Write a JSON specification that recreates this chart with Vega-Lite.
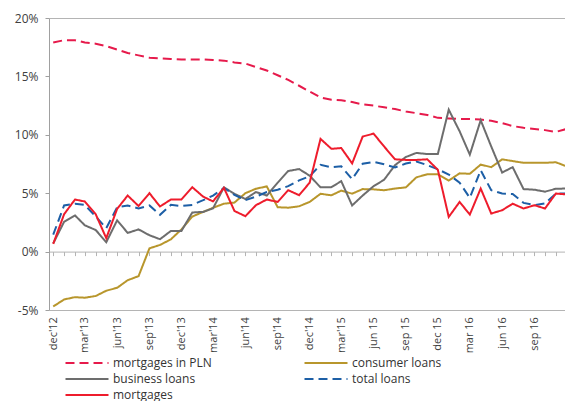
{
  "$schema": "https://vega.github.io/schema/vega-lite/v6.json",
  "autosize": {"type": "none"},
  "padding": {"left": 49, "top": 18, "right": 0, "bottom": 91},
  "width": 516,
  "height": 292,
  "config": {"view": {"stroke": null}, "font": "Open Sans"},
  "data": {"values": [
    {"date": "2012-12-01", "mortgages in PLN": 17.9, "consumer loans": -4.7, "business loans": 0.7, "total loans": 1.45, "mortgages": 0.66},
    {"date": "2013-01-01", "mortgages in PLN": 18.1, "consumer loans": -4.1, "business loans": 2.55, "total loans": 3.95, "mortgages": 3.2},
    {"date": "2013-02-01", "mortgages in PLN": 18.1, "consumer loans": -3.9, "business loans": 3.1, "total loans": 4.1, "mortgages": 4.46},
    {"date": "2013-03-01", "mortgages in PLN": 17.9, "consumer loans": -3.95, "business loans": 2.25, "total loans": 4.0, "mortgages": 4.29},
    {"date": "2013-04-01", "mortgages in PLN": 17.8, "consumer loans": -3.8, "business loans": 1.85, "total loans": 3.0, "mortgages": 3.2},
    {"date": "2013-05-01", "mortgages in PLN": 17.6, "consumer loans": -3.35, "business loans": 0.8, "total loans": 2.0, "mortgages": 1.15},
    {"date": "2013-06-01", "mortgages in PLN": 17.3, "consumer loans": -3.1, "business loans": 2.68, "total loans": 3.8, "mortgages": 3.66},
    {"date": "2013-07-01", "mortgages in PLN": 17.0, "consumer loans": -2.45, "business loans": 1.6, "total loans": 3.95, "mortgages": 4.8},
    {"date": "2013-08-01", "mortgages in PLN": 16.8, "consumer loans": -2.1, "business loans": 1.9, "total loans": 3.7, "mortgages": 3.9},
    {"date": "2013-09-01", "mortgages in PLN": 16.6, "consumer loans": 0.28, "business loans": 1.4, "total loans": 3.95, "mortgages": 5.0},
    {"date": "2013-10-01", "mortgages in PLN": 16.55, "consumer loans": 0.57, "business loans": 1.06, "total loans": 3.15, "mortgages": 3.86},
    {"date": "2013-11-01", "mortgages in PLN": 16.5, "consumer loans": 1.05, "business loans": 1.77, "total loans": 4.0, "mortgages": 4.46},
    {"date": "2013-12-01", "mortgages in PLN": 16.45, "consumer loans": 1.9, "business loans": 1.77, "total loans": 3.9, "mortgages": 4.46},
    {"date": "2014-01-01", "mortgages in PLN": 16.45, "consumer loans": 3.0, "business loans": 3.35, "total loans": 4.0, "mortgages": 5.51},
    {"date": "2014-02-01", "mortgages in PLN": 16.45, "consumer loans": 3.4, "business loans": 3.4, "total loans": 4.4, "mortgages": 4.7},
    {"date": "2014-03-01", "mortgages in PLN": 16.4, "consumer loans": 3.75, "business loans": 3.7, "total loans": 4.8, "mortgages": 4.3},
    {"date": "2014-04-01", "mortgages in PLN": 16.35, "consumer loans": 4.1, "business loans": 5.5, "total loans": 5.45, "mortgages": 5.46},
    {"date": "2014-05-01", "mortgages in PLN": 16.2, "consumer loans": 4.2, "business loans": 4.95, "total loans": 4.85, "mortgages": 3.48},
    {"date": "2014-06-01", "mortgages in PLN": 16.1, "consumer loans": 5.0, "business loans": 4.5, "total loans": 4.4, "mortgages": 3.03},
    {"date": "2014-07-01", "mortgages in PLN": 15.8, "consumer loans": 5.38, "business loans": 5.1, "total loans": 4.7, "mortgages": 3.97},
    {"date": "2014-08-01", "mortgages in PLN": 15.5, "consumer loans": 5.58, "business loans": 4.8, "total loans": 5.1, "mortgages": 4.46},
    {"date": "2014-09-01", "mortgages in PLN": 15.1, "consumer loans": 3.8, "business loans": 5.9, "total loans": 5.3, "mortgages": 4.25},
    {"date": "2014-10-01", "mortgages in PLN": 14.7, "consumer loans": 3.76, "business loans": 6.9, "total loans": 5.6, "mortgages": 5.26},
    {"date": "2014-11-01", "mortgages in PLN": 14.2, "consumer loans": 3.88, "business loans": 7.07, "total loans": 6.1, "mortgages": 4.83},
    {"date": "2014-12-01", "mortgages in PLN": 13.7, "consumer loans": 4.25, "business loans": 6.5, "total loans": 6.45, "mortgages": 5.9},
    {"date": "2015-01-01", "mortgages in PLN": 13.2, "consumer loans": 4.95, "business loans": 5.5, "total loans": 7.43, "mortgages": 9.65},
    {"date": "2015-02-01", "mortgages in PLN": 13.0, "consumer loans": 4.82, "business loans": 5.52, "total loans": 7.22, "mortgages": 8.8},
    {"date": "2015-03-01", "mortgages in PLN": 12.95, "consumer loans": 5.22, "business loans": 6.03, "total loans": 7.3, "mortgages": 8.87},
    {"date": "2015-04-01", "mortgages in PLN": 12.8, "consumer loans": 4.96, "business loans": 3.95, "total loans": 6.2, "mortgages": 7.55},
    {"date": "2015-05-01", "mortgages in PLN": 12.6, "consumer loans": 5.35, "business loans": 4.8, "total loans": 7.52, "mortgages": 9.85},
    {"date": "2015-06-01", "mortgages in PLN": 12.5, "consumer loans": 5.33, "business loans": 5.6, "total loans": 7.68, "mortgages": 10.1},
    {"date": "2015-07-01", "mortgages in PLN": 12.35, "consumer loans": 5.25, "business loans": 6.15, "total loans": 7.48, "mortgages": 9.0},
    {"date": "2015-08-01", "mortgages in PLN": 12.2, "consumer loans": 5.4, "business loans": 7.4, "total loans": 7.2, "mortgages": 7.9},
    {"date": "2015-09-01", "mortgages in PLN": 12.0, "consumer loans": 5.5, "business loans": 8.1, "total loans": 7.54, "mortgages": 7.85},
    {"date": "2015-10-01", "mortgages in PLN": 11.85, "consumer loans": 6.36, "business loans": 8.45, "total loans": 7.72, "mortgages": 7.85},
    {"date": "2015-11-01", "mortgages in PLN": 11.7, "consumer loans": 6.62, "business loans": 8.35, "total loans": 7.4, "mortgages": 7.9},
    {"date": "2015-12-01", "mortgages in PLN": 11.45, "consumer loans": 6.62, "business loans": 8.35, "total loans": 7.05, "mortgages": 7.0},
    {"date": "2016-01-01", "mortgages in PLN": 11.4, "consumer loans": 6.08, "business loans": 12.15, "total loans": 6.6, "mortgages": 2.97},
    {"date": "2016-02-01", "mortgages in PLN": 11.35, "consumer loans": 6.7, "business loans": 10.3, "total loans": 5.9, "mortgages": 4.25},
    {"date": "2016-03-01", "mortgages in PLN": 11.35, "consumer loans": 6.66, "business loans": 8.3, "total loans": 4.6, "mortgages": 3.17},
    {"date": "2016-04-01", "mortgages in PLN": 11.3, "consumer loans": 7.45, "business loans": 11.25, "total loans": 6.97, "mortgages": 5.4},
    {"date": "2016-05-01", "mortgages in PLN": 11.2, "consumer loans": 7.23, "business loans": 9.0, "total loans": 5.25, "mortgages": 3.26},
    {"date": "2016-06-01", "mortgages in PLN": 11.0, "consumer loans": 7.9, "business loans": 6.77, "total loans": 4.97, "mortgages": 3.54},
    {"date": "2016-07-01", "mortgages in PLN": 10.75, "consumer loans": 7.75, "business loans": 7.23, "total loans": 4.93, "mortgages": 4.1},
    {"date": "2016-08-01", "mortgages in PLN": 10.6, "consumer loans": 7.6, "business loans": 5.35, "total loans": 4.17, "mortgages": 3.69},
    {"date": "2016-09-01", "mortgages in PLN": 10.5, "consumer loans": 7.6, "business loans": 5.3, "total loans": 3.98, "mortgages": 3.97},
    {"date": "2016-10-01", "mortgages in PLN": 10.4, "consumer loans": 7.6, "business loans": 5.13, "total loans": 4.13, "mortgages": 3.69},
    {"date": "2016-11-01", "mortgages in PLN": 10.25, "consumer loans": 7.65, "business loans": 5.38, "total loans": 4.97, "mortgages": 4.97},
    {"date": "2016-12-01", "mortgages in PLN": 10.5, "consumer loans": 7.3, "business loans": 5.4, "total loans": 4.97, "mortgages": 4.9}
  ]},
  "transform": [
    {"fold": ["mortgages in PLN", "consumer loans", "business loans", "total loans", "mortgages"], "as": ["series", "value"]}
  ],
  "mark": {"type": "line", "strokeWidth": 2, "clip": true},
  "encoding": {
    "x": {
      "field": "date",
      "type": "temporal",
      "scale": {"type": "utc", "domain": [{"year": 2012, "month": 11, "date": 19, "utc": true}, {"year": 2016, "month": 11, "date": 27, "utc": true}]},
      "axis": {
        "orient": "bottom",
        "offset": -58.4,
        "title": null,
        "grid": false,
        "tickCount": {"interval": "month", "step": 1},
        "domainColor": "#b4b4b4",
        "tickColor": "#b4b4b4",
        "tickSize": 4,
        "labelPadding": 61,
        "labelAngle": 270,
        "labelAlign": "right",
        "labelBaseline": "middle",
        "labelFontSize": 11,
        "labelColor": "#404040",
        "labelOverlap": false,
        "labelFlush": false,
        "labelBound": false,
        "labelExpr": "utcmonth(datum.value) % 3 == 2 ? lower(utcFormat(datum.value, datum.value < utc(2015, 4, 15) ? \"%b'%y\" : '%b %y')) : ''"
      }
    },
    "y": {
      "field": "value",
      "type": "quantitative",
      "scale": {"domain": [-5, 20], "nice": false, "zero": false},
      "axis": {
        "title": null,
        "values": [-5, 0, 5, 10, 15, 20],
        "labelExpr": "datum.value + '%'",
        "labelFontSize": 12,
        "labelColor": "#404040",
        "labelPadding": 7,
        "tickSize": 4,
        "tickColor": "#a0a0a0",
        "domainColor": "#a0a0a0",
        "grid": true,
        "gridColor": "#b4b4b4",
        "gridOpacity": {"condition": {"test": "datum.value == 20 || datum.value == -5", "value": 1}, "value": 0}
      }
    },
    "color": {
      "field": "series",
      "type": "nominal",
      "scale": {
        "domain": ["mortgages in PLN", "business loans", "mortgages", "consumer loans", "total loans"],
        "range": ["#e61a4b", "#6d6d6d", "#ee1c2c", "#b8962c", "#1d5fa6"]
      },
      "legend": {
        "orient": "none",
        "legendX": 15,
        "legendY": 338,
        "columns": 2,
        "title": null,
        "padding": 0,
        "symbolType": "stroke",
        "symbolSize": 1849,
        "symbolStrokeWidth": 2.2,
        "clipHeight": 14,
        "rowPadding": 2,
        "columnPadding": 91,
        "labelOffset": 3,
        "labelFontSize": 12,
        "labelColor": "#333333",
        "labelLimit": 300
      }
    },
    "strokeDash": {
      "field": "series",
      "type": "nominal",
      "scale": {
        "domain": ["mortgages in PLN", "business loans", "mortgages", "consumer loans", "total loans"],
        "range": [[9, 5], [1, 0], [1, 0], [1, 0], [9, 5]]
      }
    }
  }
}
